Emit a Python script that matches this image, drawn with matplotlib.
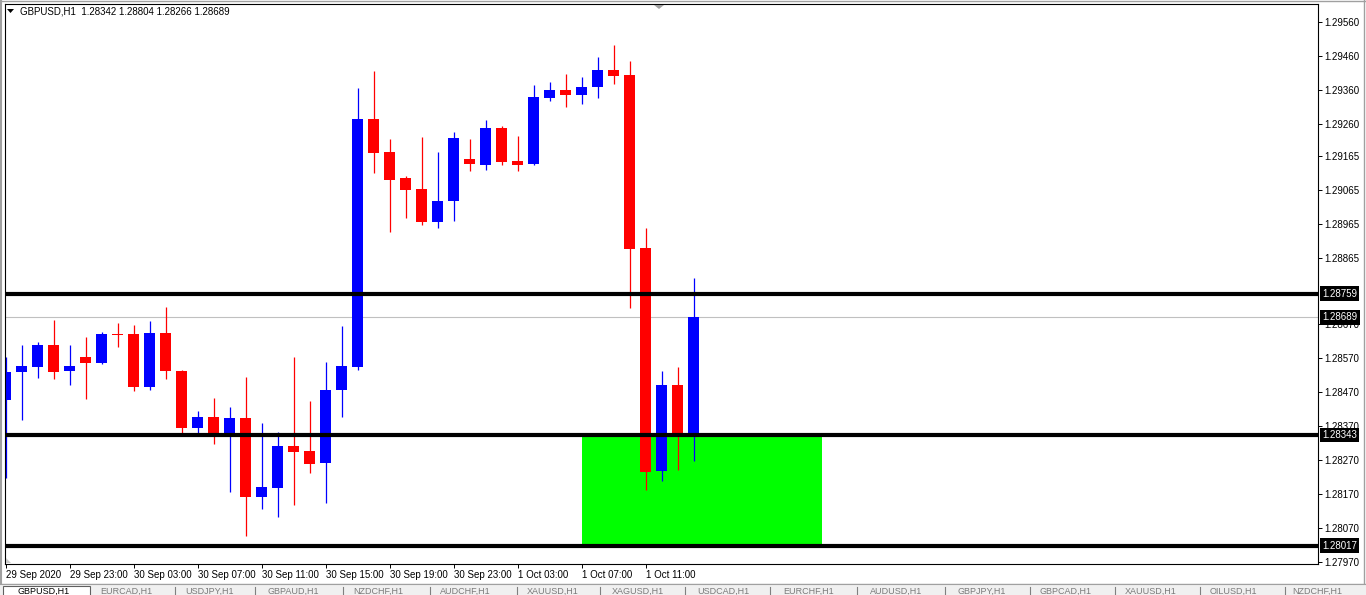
import matplotlib
matplotlib.use('Agg')
import matplotlib.pyplot as plt
from matplotlib.patches import Rectangle, Polygon

# ---------------- data ----------------
symbol = "GBPUSD,H1"
header_values = ["1.28342", "1.28804", "1.28266", "1.28689"]

opens = [1.28447, 1.28527, 1.28544, 1.28608, 1.28530, 1.28573, 1.28556, 1.28641,
         1.28640, 1.28485, 1.28643, 1.28532, 1.28362, 1.28396, 1.28338, 1.28393,
         1.28161, 1.28188, 1.28311, 1.28296, 1.28259, 1.28474, 1.28543, 1.29274,
         1.29176, 1.29100, 1.29067, 1.28971, 1.29033, 1.29156, 1.29139, 1.29247,
         1.29150, 1.29142, 1.29336, 1.29359, 1.29345, 1.29369, 1.29418, 1.29403,
         1.28894, 1.28238, 1.28490, 1.28342]
highs = [1.28573, 1.28608, 1.28617, 1.28682, 1.28608, 1.28632, 1.28646, 1.28673,
         1.28667, 1.28679, 1.28720, 1.28535, 1.28414, 1.28452, 1.28426, 1.28514,
         1.28378, 1.28352, 1.28573, 1.28443, 1.28558, 1.28664, 1.29365, 1.29415,
         1.29215, 1.29106, 1.29221, 1.29176, 1.29235, 1.29215, 1.29271, 1.29253,
         1.29223, 1.29374, 1.29382, 1.29406, 1.29397, 1.29456, 1.29491, 1.29444,
         1.28953, 1.28532, 1.28543, 1.28804]
lows = [1.28217, 1.28388, 1.28512, 1.28509, 1.28491, 1.28450, 1.28553, 1.28603,
        1.28471, 1.28474, 1.28509, 1.28348, 1.28348, 1.28315, 1.28176, 1.28044,
        1.28126, 1.28100, 1.28138, 1.28232, 1.28144, 1.28397, 1.28535, 1.29115,
        1.28942, 1.28983, 1.28962, 1.28953, 1.28974, 1.29121, 1.29124, 1.29139,
        1.29121, 1.29139, 1.29327, 1.29310, 1.29319, 1.29336, 1.29377, 1.28718,
        1.28182, 1.28206, 1.28241, 1.28266]
closes = [1.28529, 1.28546, 1.28608, 1.28527, 1.28546, 1.28556, 1.28640, 1.28638,
          1.28485, 1.28643, 1.28530, 1.28362, 1.28396, 1.28338, 1.28393, 1.28159,
          1.28190, 1.28311, 1.28294, 1.28256, 1.28476, 1.28546, 1.29274, 1.29174,
          1.29095, 1.29065, 1.28971, 1.29032, 1.29218, 1.29142, 1.29247, 1.29148,
          1.29139, 1.29338, 1.29359, 1.29345, 1.29368, 1.29418, 1.29401, 1.28892,
          1.28235, 1.28490, 1.28340, 1.28689]

level_lines = [1.28759, 1.28343, 1.28017]
bid_price = 1.28689
zone_start, zone_end = 36, 51          # bar indices of the green zone
zone_low, zone_high = 1.28017, 1.28343

time_tick_bars = [0, 4, 8, 12, 16, 20, 24, 28, 32, 36, 40]
time_tick_labels = ["29 Sep 2020", "29 Sep 23:00", "30 Sep 03:00", "30 Sep 07:00",
                    "30 Sep 11:00", "30 Sep 15:00", "30 Sep 19:00", "30 Sep 23:00",
                    "1 Oct 03:00", "1 Oct 07:00", "1 Oct 11:00"]
price_ticks = [1.29560, 1.29460, 1.29360, 1.29260, 1.29165, 1.29065, 1.28965,
               1.28865, 1.28670, 1.28570, 1.28470, 1.28370, 1.28270, 1.28170,
               1.28070, 1.27970]
tab_names = ["GBPUSD,H1", "EURCAD,H1", "USDJPY,H1", "GBPAUD,H1", "NZDCHF,H1",
             "AUDCHF,H1", "XAUUSD,H1", "XAGUSD,H1", "USDCAD,H1", "EURCHF,H1",
             "AUDUSD,H1", "GBPJPY,H1", "GBPCAD,H1", "XAUUSD,H1", "OILUSD,H1",
             "NZDCHF,H1"]

# ---------------- figure ----------------
W, H = 1366, 595
fig = plt.figure(figsize=(W / 100, H / 100), dpi=100, facecolor='white')
FONT = 'Liberation Sans'
FS = 7

# chart area in pixels
L, R, T, B = 5, 1318, 4, 564
ax = fig.add_axes([L / W, (H - B) / H, (R - L) / W, (B - T) / H])
ax.set_facecolor('white')

# scales: 16 px per bar, first bar centre 0.5 px inside the left edge
px_per_bar = 16.0
x0 = -0.5 / px_per_bar
ax.set_xlim(x0, x0 + (R - L) / px_per_bar)
ax.set_ylim(1.27963, 1.29612)

BLUE, RED = '#0000FF', '#FF0000'
body_w = 11 / px_per_bar

# green zone
ax.add_patch(Rectangle((zone_start, zone_low), zone_end - zone_start,
                       zone_high - zone_low, facecolor='#00FF00',
                       edgecolor='none', zorder=1))

# bid line
ax.axhline(bid_price, color='#C0C0C0', lw=0.8, zorder=1.5)

# candles
for i, (o, h, l, c) in enumerate(zip(opens, highs, lows, closes)):
    col = BLUE if c > o else RED
    ax.vlines(i, l, h, color=col, lw=0.9, zorder=2)
    lo, hi = min(o, c), max(o, c)
    ax.bar(i, max(hi - lo, 0.00003), bottom=lo, width=body_w, color=col,
           linewidth=0, zorder=2.2)

# horizontal levels
for lv in level_lines:
    ax.axhline(lv, color='black', lw=3.0, zorder=3)

# axes styling
for s in ax.spines.values():
    s.set_color('black')
    s.set_linewidth(0.8)
ax.yaxis.tick_right()
ax.set_yticks(price_ticks)
ax.set_yticklabels([f"{v:.5f}" for v in price_ticks], fontfamily=FONT, fontsize=FS)
ax.tick_params(axis='y', direction='out', length=3, width=0.7, pad=1.5, colors='black')
ax.set_xticks(time_tick_bars)
ax.set_xticklabels(time_tick_labels, fontfamily=FONT, fontsize=FS, ha='left')
ax.tick_params(axis='x', direction='out', length=3, width=0.7, pad=1.0)

# boxed price labels on the price scale
for v in level_lines + [bid_price]:
    ax.annotate(f"{v:.5f}", xy=(1.0, v), xycoords=('axes fraction', 'data'),
                xytext=(4, 0), textcoords='offset pixels', ha='left', va='center',
                fontfamily=FONT, fontsize=FS, color='white', zorder=10,
                annotation_clip=False,
                bbox=dict(boxstyle='square,pad=0.25', fc='black', ec='none'))

# ---------------- overlay decorations (pixel coordinates) ----------------
ov = fig.add_axes([0, 0, 1, 1], zorder=5)
ov.set_xlim(0, W)
ov.set_ylim(H, 0)
ov.axis('off')
ov.patch.set_alpha(0)

# window frame
ov.plot([1, 1], [0, 583], color='#A0A0A0', lw=1.5)
ov.plot([0, W], [1, 1], color='#A0A0A0', lw=1.0)
ov.plot([W - 2, W - 2], [0, 583], color='#A0A0A0', lw=1.0)

# header
ov.add_patch(Polygon([[7, 9], [14, 9], [10.5, 13]], closed=True, fc='black', ec='none'))
ov.text(20, 11.5, symbol + "  " + " ".join(header_values), fontfamily=FONT,
        fontsize=FS, va='center', ha='left', color='black')

# shift marker at top
ov.add_patch(Polygon([[654, 5], [664, 5], [659, 9]], closed=True, fc='#A0A0A0', ec='none'))
# small grey corner marker bottom-left
ov.add_patch(Polygon([[6, 558], [6, 563], [11, 563]], closed=True, fc='#C8C8C8', ec='none'))

# tab bar
ov.add_patch(Rectangle((0, 583), W, 12, fc='#F0F0F0', ec='none'))
ov.plot([0, W], [583.5, 583.5], color='#A0A0A0', lw=0.8)
ov.add_patch(Rectangle((3, 585.5), 87, 10, fc='white', ec='#606060', lw=0.8))
tab_x = [18, 100, 185, 268, 353, 440, 527, 612, 697, 783, 870, 957, 1040, 1125, 1210, 1292]
sep_x = [175, 255, 343, 430, 517, 600, 685, 770, 857, 945, 1030, 1115, 1200, 1285]
for sx in sep_x:
    ov.plot([sx, sx], [587, 595], color='#808080', lw=0.8)
for k, (tx, name) in enumerate(zip(tab_x, tab_names)):
    ov.text(tx, 586.5, name, fontfamily=FONT, fontsize=6.5, va='top', ha='left',
            color='black' if k == 0 else '#7A7A7A', fontweight='normal')

fig.savefig('out.png', dpi=100, facecolor='white')
